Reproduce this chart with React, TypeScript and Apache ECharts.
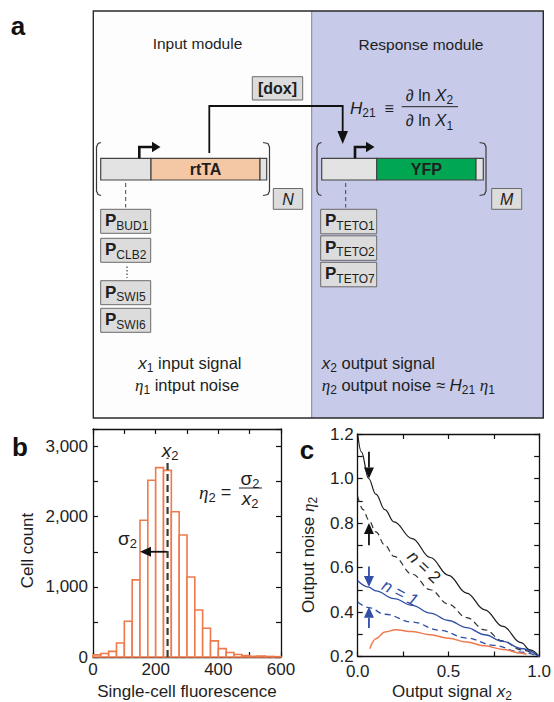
import React, { useEffect, useRef } from 'react';
import * as echarts from 'echarts';

const FONT = "'Liberation Sans', Arial, sans-serif";
const SERIF = "'Liberation Serif', 'DejaVu Serif', serif";
const ORANGE = '#ee7a4c';
const BLUE = '#2f4fa8';
const DARK = '#1e1e1e';

// ---------- panel a : diagram labels ----------
const inputPromoters = ['BUD1', 'CLB2', 'SWI5', 'SWI6'];
const responsePromoters = ['TETO1', 'TETO2', 'TETO7'];

// ---------- panel b : histogram ----------
const binWidth = 25;
const binStart = [0, 25, 50, 75, 100, 125, 150, 175, 200, 225, 250, 275, 300, 325, 350, 375, 400, 425, 450, 475, 500, 525, 550, 575];
const cellCount = [30, 50, 80, 200, 510, 1100, 1950, 2520, 2700, 2660, 2070, 1740, 1140, 670, 410, 230, 120, 65, 35, 20, 10, 14, 8, 5];
const meanSignal = 238;
const meanLineTop = 2840;
const sigmaArrowTip = 150;
const sigmaArrowY = 1500;
const histXLabels = [0, 200, 400, 600];
const histYLabels = [0, 1000, 2000, 3000];

// ---------- panel c : noise curves ----------
const n2Solid = [[0, 1.2], [0.02, 1.12], [0.06, 1.0], [0.1, 0.93], [0.15, 0.86], [0.2, 0.805], [0.3, 0.73], [0.4, 0.645], [0.5, 0.565], [0.6, 0.485], [0.7, 0.41], [0.8, 0.335], [0.9, 0.262], [0.95, 0.23], [1.0, 0.2]];
const n2Dashed = [[0, 0.92], [0.03, 0.86], [0.06, 0.815], [0.1, 0.76], [0.15, 0.7], [0.2, 0.65], [0.3, 0.57], [0.4, 0.5], [0.5, 0.435], [0.6, 0.375], [0.7, 0.32], [0.8, 0.27], [0.9, 0.23], [1.0, 0.2]];
const n1Solid = [[0, 0.54], [0.06, 0.512], [0.1, 0.495], [0.2, 0.46], [0.3, 0.43], [0.4, 0.395], [0.5, 0.362], [0.6, 0.33], [0.7, 0.298], [0.8, 0.268], [0.9, 0.236], [1.0, 0.2]];
const n1Dashed = [[0, 0.445], [0.06, 0.42], [0.15, 0.39], [0.3, 0.355], [0.45, 0.318], [0.6, 0.283], [0.75, 0.25], [0.9, 0.22], [1.0, 0.2]];
const measured = [[0.067, 0.235], [0.1, 0.28], [0.15, 0.31], [0.21, 0.32], [0.3, 0.312], [0.4, 0.298], [0.5, 0.282], [0.6, 0.265], [0.7, 0.248], [0.8, 0.232], [0.9, 0.215], [0.93, 0.21]];
const blackArrows = [[0.062, 1.12, 1.0], [0.062, 0.7, 0.8]];
const blueArrows = [[0.062, 0.604, 0.512], [0.062, 0.328, 0.424]];

// ---------- text helpers ----------
type Part = { t: string; s: number; w?: string; i?: boolean; dy?: number; f?: string; c?: string };
const mctx = document.createElement('canvas').getContext('2d') as CanvasRenderingContext2D;
function fontOf(p: Part) {
  return `${p.i ? 'italic' : 'normal'} ${p.w || 'normal'} ${p.s}px ${p.f || FONT}`;
}
function widthOf(p: Part) {
  mctx.font = fontOf(p);
  return mctx.measureText(p.t).width;
}
function seq(x: number, y: number, parts: Part[], anchor: 'left' | 'center' | 'right' = 'left', color = DARK): any[] {
  const total = parts.reduce((a, p) => a + widthOf(p), 0);
  let cx = anchor === 'left' ? x : anchor === 'center' ? x - total / 2 : x - total;
  const out: any[] = [];
  parts.forEach((p) => {
    const w = widthOf(p);
    const lead = (p.t.match(/^\s*/) as RegExpMatchArray)[0];
    const off = lead ? widthOf({ ...p, t: lead }) : 0;
    const txt = p.t.trim();
    if (txt) {
      out.push({
        type: 'text', silent: true, x: cx + off, y: y + (p.dy || 0),
        style: { text: txt, font: fontOf(p), fill: p.c || color, textAlign: 'left', textVerticalAlign: 'middle', align: 'left', verticalAlign: 'middle' },
      });
    }
    cx += w;
  });
  return out;
}
function rotated(x: number, y: number, rotation: number, parts: Part[], color = DARK) {
  return { type: 'group', x, y, rotation, silent: true, children: seq(0, 0, parts, 'center', color) };
}
function rect(x: number, y: number, w: number, h: number, style: any) {
  return { type: 'rect', silent: true, shape: { x, y, width: w, height: h }, style };
}
function line(x1: number, y1: number, x2: number, y2: number, style: any) {
  return { type: 'line', silent: true, shape: { x1, y1, x2, y2 }, style };
}
function poly(points: number[][], style: any, closed = false) {
  return { type: closed ? 'polygon' : 'polyline', silent: true, shape: { points }, style };
}
function bracket(xv: number, xe: number, yt: number, yb: number) {
  const s = Math.sign(xe - xv);
  return poly([[xe, yt], [xv + s * 1.6, yt + 1], [xv, yt + 4.5], [xv, yb - 4.5], [xv + s * 1.6, yb - 1], [xe, yb]], { stroke: '#3a3a3a', lineWidth: 1.2, fill: 'none' });
}

const BOX = { fill: '#dcdcdc', stroke: '#6a6a6a', lineWidth: 1 };
const GENE = { stroke: '#444', lineWidth: 1.2 };

function panelA(): any[] {
  const L = 93.3, T = 11, R = 543.3, B = 418, M = 311.7;
  const els: any[] = [];
  els.push(rect(L, T, M - L, B - T, { fill: '#fdfdfd' }));
  els.push(rect(M, T, R - M, B - T, { fill: '#c7cae9' }));
  els.push(line(M, T, M, B, { stroke: '#80829a', lineWidth: 1 }));
  els.push(rect(L, T, R - L, B - T, { fill: 'none', stroke: '#2a2a2a', lineWidth: 1.4 }));
  els.push(...seq(197.5, 43.5, [{ t: 'Input module', s: 15.5 }], 'center'));
  els.push(...seq(421, 44.3, [{ t: 'Response module', s: 15.5 }], 'center'));

  // dox
  els.push(rect(252.3, 76.7, 50.4, 23.3, BOX));
  els.push(...seq(277.5, 88.5, [{ t: '[dox]', s: 16, w: 'bold' }], 'center'));
  // connector
  els.push(poly([[209.3, 153], [209.3, 106], [342.7, 106], [342.7, 133]], { stroke: '#111', lineWidth: 1.8, fill: 'none' }));
  els.push(poly([[337.4, 131], [348, 131], [342.7, 144]], { fill: '#111' }, true));

  // H21 formula
  els.push(...seq(350, 108.3, [{ t: 'H', s: 17, i: true }, { t: '21', s: 12, dy: 5 }, { t: '  ≡', s: 16 }], 'left'));
  els.push(...seq(429.5, 95, [{ t: '∂ ln ', s: 16 }, { t: 'X', s: 17, i: true }, { t: '2', s: 12, dy: 5 }], 'center'));
  els.push(line(401.7, 106.7, 458, 106.7, { stroke: '#222', lineWidth: 1 }));
  els.push(...seq(429.5, 120.7, [{ t: '∂ ln ', s: 16 }, { t: 'X', s: 17, i: true }, { t: '1', s: 12, dy: 5 }], 'center'));

  // input gene
  els.push(bracket(96.5, 101, 142.5, 195.5));
  els.push(bracket(269.5, 263, 142.5, 195.5));
  els.push(rect(100.7, 158.3, 50.3, 21.7, { fill: '#e3e3e3', ...GENE }));
  els.push(rect(151, 158.3, 109, 21.7, { fill: '#f5c8a5', ...GENE }));
  els.push(rect(260, 158.3, 6.7, 21.7, { fill: '#e3e3e3', ...GENE }));
  els.push(...seq(205.5, 169.3, [{ t: 'rtTA', s: 16, w: 'bold' }], 'center'));
  els.push(poly([[139.3, 158.3], [139.3, 147], [153, 147]], { stroke: '#111', lineWidth: 2.6, fill: 'none' }));
  els.push(poly([[152, 141.8], [160.5, 147], [152, 152.2]], { fill: '#111' }, true));
  els.push(rect(273.3, 188.5, 29.4, 20.8, BOX));
  els.push(...seq(288, 199, [{ t: 'N', s: 16, i: true }], 'center'));
  els.push(line(125.7, 183, 125.7, 207.5, { stroke: '#444', lineWidth: 1, lineDash: [4, 3] }));
  const inY = [209.3, 238.3, 280.7, 308.3];
  inputPromoters.forEach((p, i) => {
    els.push(rect(100.7, inY[i], 50, 24, BOX));
    els.push(...seq(105, inY[i] + 11.5, [{ t: 'P', s: 17, w: 'bold' }, { t: p, s: 12, dy: 5 }], 'left'));
  });
  els.push(line(127, 266.5, 127, 278, { stroke: '#444', lineWidth: 1.2, lineDash: [1.5, 2] }));

  // response gene
  els.push(bracket(317, 321.5, 142.5, 195.5));
  els.push(bracket(486, 479.5, 142.5, 195.5));
  els.push(rect(321.7, 158.3, 55, 21.7, { fill: '#e3e3e3', ...GENE }));
  els.push(rect(376.7, 158.3, 99.3, 21.7, { fill: '#00a651', ...GENE }));
  els.push(rect(476, 158.3, 7.3, 21.7, { fill: '#e3e3e3', ...GENE }));
  els.push(...seq(426.3, 169.3, [{ t: 'YFP', s: 16, w: 'bold' }], 'center'));
  els.push(poly([[355, 158.3], [355, 147], [367, 147]], { stroke: '#111', lineWidth: 2.6, fill: 'none' }));
  els.push(poly([[366, 141.8], [374.5, 147], [366, 152.2]], { fill: '#111' }, true));
  els.push(rect(491.7, 188.5, 30, 20.8, BOX));
  els.push(...seq(506.7, 199, [{ t: 'M', s: 16, i: true }], 'center'));
  els.push(line(345.7, 183, 345.7, 207.5, { stroke: '#444', lineWidth: 1, lineDash: [4, 3] }));
  const outY = [209.3, 235.8, 262.3];
  responsePromoters.forEach((p, i) => {
    els.push(rect(320.7, outY[i], 56, 24.5, BOX));
    els.push(...seq(325, outY[i] + 11.5, [{ t: 'P', s: 17, w: 'bold' }, { t: p, s: 12, dy: 5 }], 'left'));
  });

  // bottom texts
  els.push(...seq(138.3, 363, [{ t: 'x', s: 17, i: true }, { t: '1', s: 12, dy: 5 }, { t: ' input signal', s: 16.5 }], 'left'));
  els.push(...seq(135, 385, [{ t: 'η', s: 17, i: true, f: SERIF }, { t: '1', s: 12, dy: 5 }, { t: ' intput noise', s: 16.5 }], 'left'));
  els.push(...seq(321.7, 363, [{ t: 'x', s: 17, i: true }, { t: '2', s: 12, dy: 5 }, { t: ' output signal', s: 16.5 }], 'left'));
  els.push(...seq(321.7, 385, [{ t: 'η', s: 17, i: true, f: SERIF }, { t: '2', s: 12, dy: 5 }, { t: ' output noise ≈ ', s: 16.5 }, { t: 'H', s: 17, i: true }, { t: '21', s: 12, dy: 5 }, { t: ' ', s: 16.5 }, { t: 'η', s: 17, i: true, f: SERIF }, { t: '1', s: 12, dy: 5 }], 'left'));
  return els;
}

function annotations(): any[] {
  const els: any[] = [];
  els.push(...seq(18, 26, [{ t: 'a', s: 26, w: 'bold' }], 'center', '#111'));
  els.push(...seq(20, 447, [{ t: 'b', s: 26, w: 'bold' }], 'center', '#111'));
  els.push(...seq(307, 450, [{ t: 'c', s: 26, w: 'bold' }], 'center', '#111'));
  // panel b
  els.push(...seq(170, 450, [{ t: 'x', s: 19, i: true }, { t: '2', s: 13, dy: 5 }], 'center'));
  els.push(...seq(118, 538, [{ t: 'σ', s: 19 }, { t: '2', s: 13, dy: 5 }], 'left'));
  els.push(...seq(199, 492, [{ t: 'η', s: 19, i: true, f: SERIF }, { t: '2', s: 13, dy: 5 }, { t: ' =', s: 18 }], 'left'));
  els.push(...seq(250, 478.5, [{ t: 'σ', s: 19 }, { t: '2', s: 13, dy: 5 }], 'center'));
  els.push(line(239, 488, 262, 488, { stroke: '#222', lineWidth: 1 }));
  els.push(...seq(250, 498.5, [{ t: 'x', s: 19, i: true }, { t: '2', s: 13, dy: 5 }], 'center'));
  els.push(rotated(27, 550.5, Math.PI / 2, [{ t: 'Cell count', s: 17 }]));
  els.push(...seq(187, 691.5, [{ t: 'Single-cell fluorescence', s: 17 }], 'center'));
  // panel c
  els.push(rotated(308.3, 555, Math.PI / 2, [{ t: 'Output noise ', s: 17 }, { t: 'η', s: 17, i: true, f: SERIF }, { t: '2', s: 12, dy: 5 }]));
  els.push(...seq(452, 691.5, [{ t: 'Output signal ', s: 17 }, { t: 'x', s: 17, i: true }, { t: '2', s: 12, dy: 4 }], 'center'));
  els.push(rotated(424, 567, -0.76, [{ t: 'n', s: 17, i: true }, { t: ' = 2', s: 17 }]));
  els.push(rotated(400, 593, -0.48, [{ t: 'n', s: 17, i: true }, { t: ' = 1', s: 17, i: true }], BLUE));
  return els;
}

const axisLine = { show: true, onZero: false, lineStyle: { color: '#111', width: 1.3 } };
const axisTick = { show: true, inside: true, length: 5, lineStyle: { color: '#111', width: 1.2 } };
const labelStyle = { fontSize: 17, fontFamily: FONT, color: DARK };

function arrowRender(color: string) {
  return (params: any, api: any) => {
    const x = api.value(0), y0 = api.value(1), y1 = api.value(2);
    const p0 = api.coord([x, y0]);
    const p1 = api.coord([x, y1]);
    const dir = Math.sign(p1[1] - p0[1]);
    const base = p1[1] - dir * 11;
    return {
      type: 'group',
      children: [
        { type: 'line', shape: { x1: p0[0], y1: p0[1], x2: p1[0], y2: base }, style: { stroke: color, lineWidth: 1.8 } },
        { type: 'polygon', shape: { points: [[p1[0] - 5, base], [p1[0] + 5, base], [p1[0], p1[1]]] }, style: { fill: color } },
      ],
    };
  };
}

function buildOption(): any {
  const fmtC = (v: number) => v.toFixed(1);
  return {
    animation: false,
    backgroundColor: '#ffffff',
    grid: [
      { left: 93, top: 429, width: 188, height: 228 },
      { left: 357.7, top: 434, width: 185.3, height: 222.5 },
    ],
    xAxis: [
      { gridIndex: 0, type: 'value', min: 0, max: 600, interval: 100, position: 'bottom', axisLine, axisTick, splitLine: { show: false },
        axisLabel: { ...labelStyle, margin: 4, formatter: (v: number) => (histXLabels.includes(v) ? String(v) : '') } },
      { gridIndex: 0, type: 'value', min: 0, max: 600, interval: 100, position: 'top', axisLine, axisTick, splitLine: { show: false }, axisLabel: { show: false } },
      { gridIndex: 1, type: 'value', min: 0, max: 1, interval: 0.25, position: 'bottom', axisLine, axisTick, splitLine: { show: false },
        axisLabel: { ...labelStyle, margin: 6, formatter: (v: number) => (Math.abs(v * 2 - Math.round(v * 2)) < 1e-6 ? fmtC(v) : '') } },
      { gridIndex: 1, type: 'value', min: 0, max: 1, interval: 0.25, position: 'top', axisLine, axisTick, splitLine: { show: false }, axisLabel: { show: false } },
    ],
    yAxis: [
      { gridIndex: 0, type: 'value', min: 0, max: 3250, interval: 500, position: 'left', axisLine, axisTick, splitLine: { show: false },
        axisLabel: { ...labelStyle, margin: 5, formatter: (v: number) => (histYLabels.includes(v) ? v.toLocaleString('en-US') : '') } },
      { gridIndex: 0, type: 'value', min: 0, max: 3250, interval: 500, position: 'right', axisLine, axisTick, splitLine: { show: false }, axisLabel: { show: false } },
      { gridIndex: 1, type: 'value', min: 0.2, max: 1.2, interval: 0.1, position: 'left', axisLine, axisTick, splitLine: { show: false },
        axisLabel: { ...labelStyle, margin: 4, formatter: (v: number) => (Math.round(v * 10) % 2 === 0 ? fmtC(v) : '') } },
      { gridIndex: 1, type: 'value', min: 0.2, max: 1.2, interval: 0.1, position: 'right', axisLine, axisTick, splitLine: { show: false }, axisLabel: { show: false } },
    ],
    series: [
      {
        type: 'custom', xAxisIndex: 0, yAxisIndex: 0, silent: true,
        data: binStart.map((s, i) => [s, s + binWidth, cellCount[i]]),
        encode: { x: [0, 1], y: 2 },
        renderItem: (params: any, api: any) => {
          const a = api.coord([api.value(0), 0]);
          const b = api.coord([api.value(1), api.value(2)]);
          return { type: 'rect', shape: { x: a[0], y: b[1], width: b[0] - a[0], height: a[1] - b[1] }, style: { fill: '#ffffff', stroke: ORANGE, lineWidth: 1.6 } };
        },
      },
      {
        type: 'line', xAxisIndex: 0, yAxisIndex: 0, silent: true, showSymbol: false,
        data: [[meanSignal, 0], [meanSignal, meanLineTop]],
        lineStyle: { color: '#3a3a3a', width: 2.2, type: [7, 4] },
      },
      {
        type: 'custom', xAxisIndex: 0, yAxisIndex: 0, silent: true,
        data: [[meanSignal, sigmaArrowTip, sigmaArrowY]],
        encode: { x: [0, 1], y: 2 },
        renderItem: (params: any, api: any) => {
          const p0 = api.coord([api.value(0), api.value(2)]);
          const p1 = api.coord([api.value(1), api.value(2)]);
          const base = p1[0] + 11;
          return {
            type: 'group',
            children: [
              { type: 'line', shape: { x1: p0[0], y1: p0[1], x2: base, y2: p1[1] }, style: { stroke: '#111', lineWidth: 1.8 } },
              { type: 'polygon', shape: { points: [[base, p1[1] - 5], [base, p1[1] + 5], [p1[0], p1[1]]] }, style: { fill: '#111' } },
            ],
          };
        },
      },
      { type: 'line', xAxisIndex: 2, yAxisIndex: 2, silent: true, showSymbol: false, smooth: 0.4, smoothMonotone: 'x', data: n2Solid, lineStyle: { color: '#1a1a1a', width: 1.2 } },
      { type: 'line', xAxisIndex: 2, yAxisIndex: 2, silent: true, showSymbol: false, smooth: 0.4, smoothMonotone: 'x', data: n2Dashed, lineStyle: { color: '#333', width: 1.2, type: [6, 4] } },
      { type: 'line', xAxisIndex: 2, yAxisIndex: 2, silent: true, showSymbol: false, smooth: 0.4, smoothMonotone: 'x', data: n1Solid, lineStyle: { color: BLUE, width: 1.4 } },
      { type: 'line', xAxisIndex: 2, yAxisIndex: 2, silent: true, showSymbol: false, smooth: 0.4, smoothMonotone: 'x', data: n1Dashed, lineStyle: { color: BLUE, width: 1.3, type: [6, 4] } },
      { type: 'line', xAxisIndex: 2, yAxisIndex: 2, silent: true, showSymbol: false, smooth: 0.4, smoothMonotone: 'x', data: measured, lineStyle: { color: ORANGE, width: 1.5 } },
      { type: 'custom', xAxisIndex: 2, yAxisIndex: 2, silent: true, data: blackArrows, encode: { x: 0, y: [1, 2] }, renderItem: arrowRender('#111') },
      { type: 'custom', xAxisIndex: 2, yAxisIndex: 2, silent: true, data: blueArrows, encode: { x: 0, y: [1, 2] }, renderItem: arrowRender(BLUE) },
    ],
    graphic: { elements: [...panelA(), ...annotations()] },
  };
}

export default function App() {
  const ref = useRef<HTMLDivElement>(null);
  useEffect(() => {
    const chart = echarts.init(ref.current as HTMLDivElement, null, { renderer: 'svg' });
    chart.setOption(buildOption());
    return () => chart.dispose();
  }, []);
  return <div ref={ref} style={{ position: 'fixed', left: 0, top: 0, width: 554, height: 702, background: '#ffffff' }} />;
}
